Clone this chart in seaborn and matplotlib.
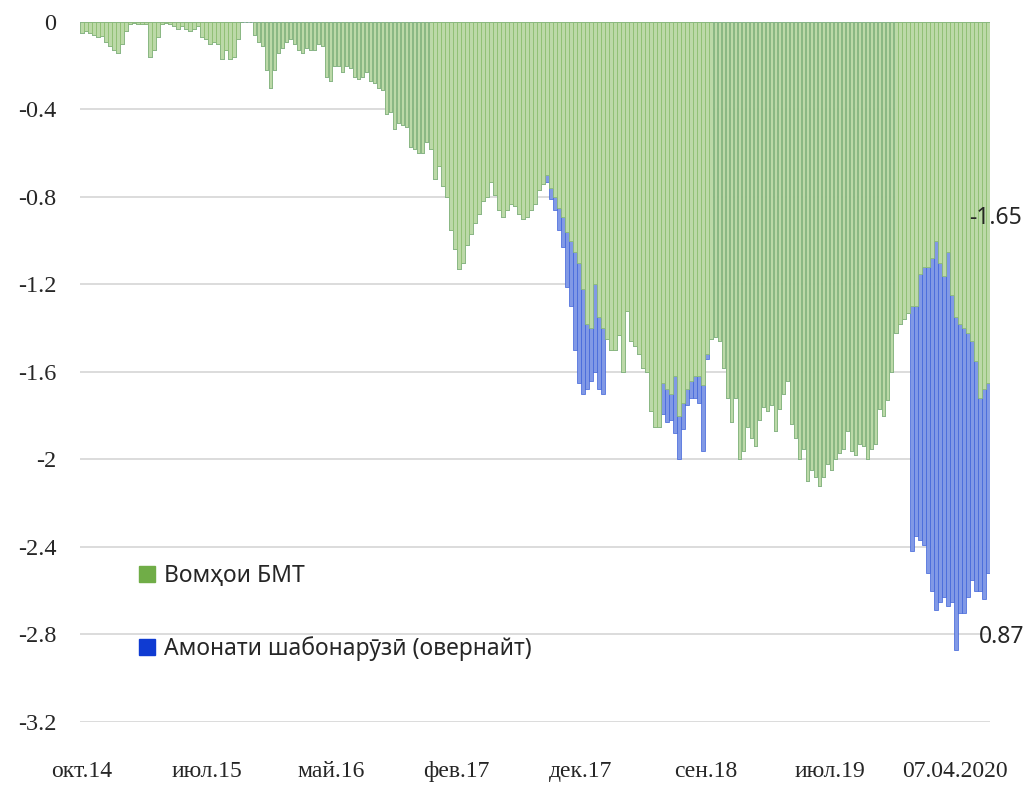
import numpy as np
import pandas as pd
import matplotlib
matplotlib.use("Agg")
import matplotlib.pyplot as plt
import seaborn as sns
from matplotlib.patches import Patch

# =========================================
# DATA
# =========================================

# UN securities ("Вомҳои БМТ"), one value per bar, Oct 2014 -> 07.04.2020
green = [
    -0.05, -0.04, -0.05, -0.06, -0.07, -0.065, -0.09, -0.11, -0.13, -0.14,
    -0.10, -0.04, -0.01, -0.005, -0.01, -0.01, -0.01, -0.16, -0.13, -0.07,
    -0.01, -0.005, -0.01, -0.02, -0.03, -0.02, -0.03, -0.04, -0.03, -0.02,
    -0.07, -0.08, -0.10, -0.09, -0.10, -0.17, -0.13, -0.17, -0.16, -0.08,
    0.0, 0.0, 0.0, -0.06, -0.09, -0.11, -0.22, -0.30, -0.22, -0.14,
    -0.12, -0.09, -0.08, -0.10, -0.13, -0.14, -0.12, -0.13, -0.13, -0.10,
    -0.11, -0.25, -0.27, -0.20, -0.20, -0.23, -0.20, -0.21, -0.25, -0.26,
    -0.25, -0.23, -0.27, -0.28, -0.30, -0.31, -0.42, -0.41, -0.49, -0.46,
    -0.47, -0.48, -0.57, -0.58, -0.60, -0.60, -0.55, -0.58, -0.72, -0.66,
    -0.75, -0.80, -0.95, -1.04, -1.13, -1.10, -1.02, -0.97, -0.92, -0.88,
    -0.82, -0.80, -0.73, -0.79, -0.86, -0.89, -0.86, -0.83, -0.84, -0.88,
    -0.90, -0.89, -0.86, -0.83, -0.77, -0.74, -0.70, -0.76, -0.80, -0.85,
    -0.89, -0.96, -1.00, -1.05, -1.10, -1.22, -1.38, -1.40, -1.20, -1.35,
    -1.40, -1.45, -1.50, -1.50, -1.43, -1.60, -1.32, -1.46, -1.48, -1.52,
    -1.58, -1.60, -1.78, -1.85, -1.85, -1.65, -1.68, -1.70, -1.62, -1.80,
    -1.74, -1.68, -1.64, -1.62, -1.62, -1.66, -1.52, -1.45, -1.44, -1.46,
    -1.58, -1.72, -1.83, -1.72, -2.00, -1.96, -1.85, -1.90, -1.94, -1.82,
    -1.76, -1.78, -1.75, -1.87, -1.77, -1.70, -1.64, -1.84, -1.90, -2.00,
    -1.95, -2.10, -2.05, -2.08, -2.12, -2.08, -2.02, -2.05, -2.00, -1.97,
    -1.95, -1.87, -1.96, -1.98, -1.93, -1.94, -2.00, -1.95, -1.93, -1.77,
    -1.80, -1.73, -1.60, -1.42, -1.38, -1.36, -1.33, -1.30, -1.30, -1.15,
    -1.12, -1.12, -1.08, -1.00, -1.10, -1.16, -1.05, -1.25, -1.35, -1.38,
    -1.40, -1.42, -1.46, -1.55, -1.72, -1.68, -1.65,
]

# overnight deposits ("Амонати шабонарӯзӣ (овернайт)"), stacked below green
blue_2017 = [0.03, 0.05, 0.06, 0.10, 0.14, 0.25, 0.30, 0.45, 0.55, 0.48,
             0.30, 0.24, 0.40, 0.33, 0.30]
blue_2018 = [0.14, 0.15, 0.12, 0.26, 0.20, 0.12, 0.07, 0.08, 0.10, 0.12,
             0.30, 0.02]
blue_2020 = [1.12, 1.05, 1.22, 1.27, 1.40, 1.52, 1.69, 1.55, 1.47, 1.62,
             1.40, 1.52, 1.32, 1.30, 1.21, 1.09, 1.05, 0.88, 0.96, 0.87]

blue = ([0.0] * 116 + blue_2017 + [0.0] * 14 + blue_2018
        + [0.0] * 50 + blue_2020)

x_labels = ["окт.14", "июл.15", "май.16", "фев.17", "дек.17",
            "сен.18", "июл.19", "07.04.2020"]
y_ticks = [0, -0.4, -0.8, -1.2, -1.6, -2, -2.4, -2.8, -3.2]
y_labels = ["0", "-0.4", "-0.8", "-1.2", "-1.6", "-2", "-2.4", "-2.8", "-3.2"]

series_names = ["Вомҳои БМТ", "Амонати шабонарӯзӣ (овернайт)"]

df = pd.DataFrame({
    "bar": np.arange(len(green)),
    "green": green,
    "blue": blue,
})
df["total"] = df["green"] - df["blue"]

# =========================================
# PLOT
# =========================================

sns.set_style("white")
plt.rcParams["font.family"] = ["Liberation Serif", "DejaVu Serif"]

GREEN_DARK = "#70AD47"
GREEN_LIGHT = "#bcd9a8"
BLUE_DARK = "#0F3BD2"
BLUE_LIGHT = "#8199e6"

fig = plt.figure(figsize=(10.29, 7.85), dpi=100)
ax = fig.add_axes([0.0777, 0.0803, 0.8843, 0.8917])

# blue first (full stacked depth), then green on top of it
sns.barplot(data=df, x="bar", y="total", color=BLUE_LIGHT, saturation=1,
            width=0.9, errorbar=None, edgecolor="#3d62d9", linewidth=0.5,
            ax=ax)
sns.barplot(data=df, x="bar", y="green", color=GREEN_LIGHT, saturation=1,
            width=0.9, errorbar=None, edgecolor="#8abd69", linewidth=0.5,
            ax=ax)

ax.set_xlim(-0.5, len(green) - 0.5)
ax.set_ylim(-3.2, 0)

ax.set_yticks(y_ticks)
ax.set_yticklabels(y_labels, fontsize=17.5)
ax.set_xticks(np.arange(len(x_labels)) * 31.1)
ax.set_xticklabels(x_labels, fontsize=17)
ax.tick_params(axis="both", length=0)
ax.tick_params(axis="y", pad=17)
ax.tick_params(axis="x", pad=28)

ax.set_xlabel("")
ax.set_ylabel("")

for yv in y_ticks:
    ax.axhline(yv, color="#d9d9d9", lw=1.3, zorder=0)

for s in ax.spines.values():
    s.set_visible(False)

# end-of-series value labels
sans = ["Noto Sans", "DejaVu Sans"]
ax.text(len(green) + 1, -0.895, "-1.65", family=sans, fontsize=16.5,
        ha="center", va="center")
ax.text(len(green) + 2.5, -2.81, "0.87", family=sans, fontsize=16.5,
        ha="center", va="center")

# legend
handles = [Patch(color=GREEN_DARK), Patch(color=BLUE_DARK)]
leg = ax.legend(handles, series_names, loc="upper left",
                bbox_to_anchor=(0.055, 0.239), frameon=False,
                prop={"family": sans, "size": 16.5},
                handlelength=0.7, handleheight=0.7, handletextpad=0.4,
                labelspacing=2.1, borderaxespad=0)

fig.savefig("out.png", dpi=100)
